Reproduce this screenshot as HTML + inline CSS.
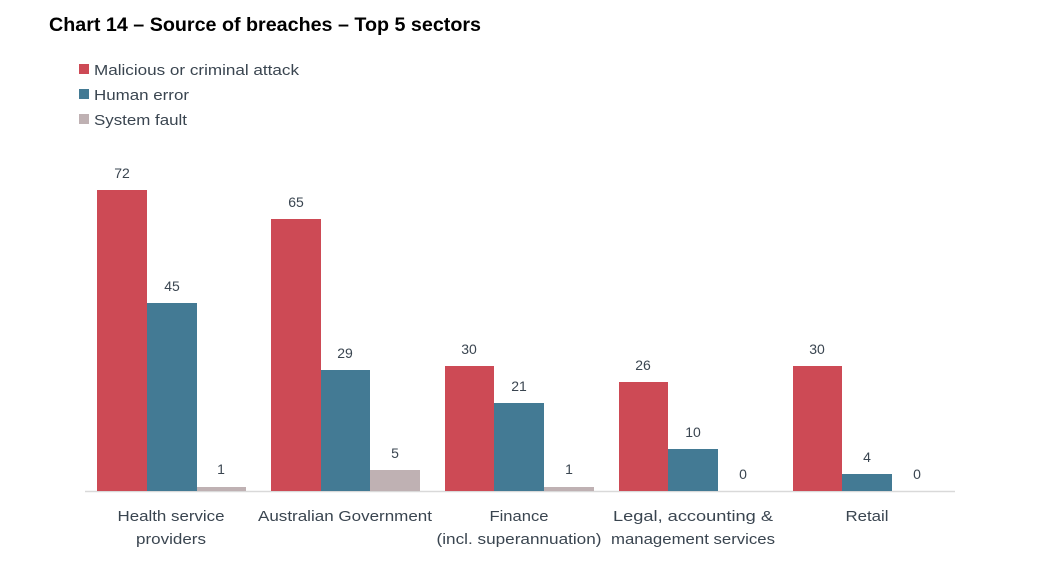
<!DOCTYPE html>
<html><head><meta charset="utf-8"><style>
body{margin:0;background:#fff;}
svg{display:block;font-family:"Liberation Sans",sans-serif;}
</style></head><body>
<svg width="1041" height="580" viewBox="0 0 1041 580">
<text x="49" y="31" font-size="19" font-weight="bold" fill="#000" textLength="432" lengthAdjust="spacingAndGlyphs">Chart 14 – Source of breaches – Top 5 sectors</text>
<g font-size="15" fill="#3a4550">
<rect x="79" y="64" width="10" height="10" fill="#CD4A55"/><text x="94" y="75" textLength="205" lengthAdjust="spacingAndGlyphs">Malicious or criminal attack</text>
<rect x="79" y="89" width="10" height="10" fill="#437A94"/><text x="94" y="100" textLength="95" lengthAdjust="spacingAndGlyphs">Human error</text>
<rect x="79" y="114" width="10" height="10" fill="#BFB1B3"/><text x="94" y="125" textLength="93" lengthAdjust="spacingAndGlyphs">System fault</text>
</g>
<line x1="85" y1="491.5" x2="955" y2="491.5" stroke="#d9d9d9" stroke-width="1.5"/>
<g>
<rect x="97" y="190" width="50" height="301" fill="#CD4A55"/>
<rect x="147" y="303" width="50" height="188" fill="#437A94"/>
<rect x="197" y="487" width="49" height="4" fill="#BFB1B3"/>
<rect x="271" y="219" width="50" height="272" fill="#CD4A55"/>
<rect x="321" y="370" width="49" height="121" fill="#437A94"/>
<rect x="370" y="470" width="50" height="21" fill="#BFB1B3"/>
<rect x="445" y="366" width="49" height="125" fill="#CD4A55"/>
<rect x="494" y="403" width="50" height="88" fill="#437A94"/>
<rect x="544" y="487" width="50" height="4" fill="#BFB1B3"/>
<rect x="619" y="382" width="49" height="109" fill="#CD4A55"/>
<rect x="668" y="449" width="50" height="42" fill="#437A94"/>
<rect x="793" y="366" width="49" height="125" fill="#CD4A55"/>
<rect x="842" y="474" width="50" height="17" fill="#437A94"/>
</g>
<g font-size="14" fill="#3a4550" text-anchor="middle">
<text x="122" y="178">72</text><text x="172" y="291">45</text><text x="221" y="474">1</text>
<text x="296" y="207">65</text><text x="345" y="358">29</text><text x="395" y="458">5</text>
<text x="469" y="354">30</text><text x="519" y="391">21</text><text x="569" y="474">1</text>
<text x="643" y="370">26</text><text x="693" y="437">10</text><text x="743" y="479">0</text>
<text x="817" y="354">30</text><text x="867" y="462">4</text><text x="917" y="479">0</text>
</g>
<g font-size="15" fill="#3a4550" text-anchor="middle" lengthAdjust="spacingAndGlyphs">
<text x="171" y="521" textLength="107" lengthAdjust="spacingAndGlyphs">Health service</text><text x="171" y="544" textLength="70" lengthAdjust="spacingAndGlyphs">providers</text>
<text x="345" y="521" textLength="174" lengthAdjust="spacingAndGlyphs">Australian Government</text>
<text x="519" y="521" textLength="59" lengthAdjust="spacingAndGlyphs">Finance</text><text x="519" y="544" textLength="165" lengthAdjust="spacingAndGlyphs">(incl. superannuation)</text>
<text x="693" y="521" textLength="160" lengthAdjust="spacingAndGlyphs">Legal, accounting &amp;</text><text x="693" y="544" textLength="164" lengthAdjust="spacingAndGlyphs">management services</text>
<text x="867" y="521" textLength="43" lengthAdjust="spacingAndGlyphs">Retail</text>
</g>
</svg>
</body></html>
